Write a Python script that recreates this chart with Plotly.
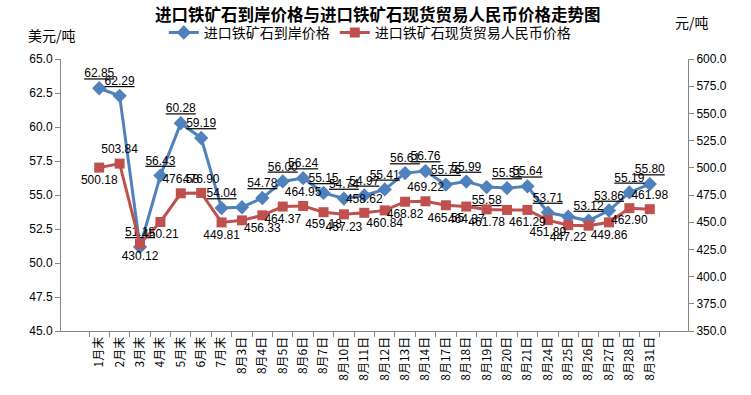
import plotly.graph_objects as go

categories = ["1月末", "2月末", "3月末", "4月末", "5月末", "6月末", "7月末", "8月3日", "8月4日",
              "8月5日", "8月6日", "8月7日", "8月10日", "8月11日", "8月12日", "8月13日", "8月14日",
              "8月17日", "8月18日", "8月19日", "8月20日", "8月21日", "8月24日", "8月25日",
              "8月26日", "8月27日", "8月28日", "8月31日"]

cif_usd = [62.85, 62.29, 51.18, 56.43, 60.28, 59.19, 54.04, 54.10, 54.78, 56.00, 56.24, 55.15,
           54.74, 54.97, 55.41, 56.61, 56.76, 55.76, 55.99, 55.58, 55.51, 55.64, 53.71, 53.40,
           53.12, 53.86, 55.19, 55.80]
cif_labels = ["62.85", "62.29", "51.18", "56.43", "60.28", "59.19", "54.04", "", "54.78", "56.00",
              "56.24", "55.15", "54.74", "54.97", "55.41", "56.61", "56.76", "55.76", "55.99",
              "55.58", "55.51", "55.64", "53.71", "", "53.12", "53.86", "55.19", "55.80"]

spot_rmb = [500.18, 503.84, 430.12, 450.21, 476.58, 476.90, 449.81, 451.70, 456.33, 464.37,
            464.95, 459.18, 457.23, 458.62, 460.84, 468.82, 469.22, 465.55, 464.37, 461.78,
            461.30, 461.29, 451.89, 447.22, 446.80, 449.86, 462.90, 461.98]
spot_labels = ["500.18", "503.84", "430.12", "450.21", "476.58", "476.90", "449.81", "", "456.33",
               "464.37", "464.95", "459.18", "457.23", "458.62", "460.84", "468.82", "469.22",
               "465.55", "464.37", "461.78", "", "461.29", "451.89", "447.22", "", "449.86",
               "462.90", "461.98"]

left_ticks = [45.0, 47.5, 50.0, 52.5, 55.0, 57.5, 60.0, 62.5, 65.0]
right_ticks = [350.0, 375.0, 400.0, 425.0, 450.0, 475.0, 500.0, 525.0, 550.0, 575.0, 600.0]

BLUE = "#4F81BD"
RED = "#C0504D"
FONT = "Liberation Sans, Noto Sans CJK SC, sans-serif"
CJK = "Noto Sans CJK SC, sans-serif"

blue_pos = ["top center"] * len(categories)
blue_pos[19] = "bottom center"
red_pos = ["bottom center"] * len(categories)
for i in (1, 4, 5, 10, 13, 16, 27):
    red_pos[i] = "top center"

fig = go.Figure()
fig.add_trace(go.Scatter(
    x=categories, y=cif_usd, name="进口铁矿石到岸价格", mode="lines+markers+text",
    line=dict(color=BLUE, width=3), marker=dict(symbol="diamond", size=11, color=BLUE),
    text=cif_labels, textposition=blue_pos,
    textfont=dict(family=FONT, size=12, color="#000000", lineposition="under"),
    cliponaxis=False, yaxis="y"))
fig.add_trace(go.Scatter(
    x=categories, y=spot_rmb, name="进口铁矿石现货贸易人民币价格", mode="lines+markers+text",
    line=dict(color=RED, width=3), marker=dict(symbol="square", size=10, color=RED),
    text=spot_labels, textposition=red_pos,
    textfont=dict(family=FONT, size=12, color="#000000"),
    cliponaxis=False, yaxis="y2"))

fig.update_layout(
    width=751, height=395,
    margin=dict(l=61, r=63, t=59, b=64),
    paper_bgcolor="white", plot_bgcolor="white",
    font=dict(family=FONT, size=12, color="#000000"),
    title=dict(text="<b>进口铁矿石到岸价格与进口铁矿石现货贸易人民币价格走势图</b>",
               x=0.503, xanchor="center", y=0.962, yanchor="middle",
               font=dict(family=CJK, size=16.5, color="#000000")),
    showlegend=True,
    legend=dict(orientation="h", x=0.4925, xanchor="center", y=1.096, yanchor="middle",
                font=dict(family=CJK, size=14), bgcolor="rgba(0,0,0,0)"),
    xaxis=dict(type="category", showgrid=False, showline=True, linecolor="#868686",
               ticks="outside", tickson="boundaries", ticklen=5, tickcolor="#868686",
               tickangle=-90, tickfont=dict(family=CJK, size=12)),
    yaxis=dict(range=[45, 65], tickvals=left_ticks, tickformat=".1f", showgrid=False,
               showline=True, linecolor="#868686", ticks="outside", ticklen=5,
               tickcolor="#868686", zeroline=False, tickfont=dict(size=12)),
    yaxis2=dict(range=[350, 600], tickvals=right_ticks, tickformat=".1f", overlaying="y",
                side="right", showgrid=False, showline=True, linecolor="#868686",
                ticks="outside", ticklen=5, tickcolor="#868686", zeroline=False,
                tickfont=dict(size=12)),
    annotations=[
        dict(text="美元/吨", xref="paper", yref="paper", x=-0.0144, y=1.088,
             xanchor="center", yanchor="middle", showarrow=False,
             font=dict(family=CJK, size=14)),
        dict(text="元/吨", xref="paper", yref="paper", x=1.006, y=1.136,
             xanchor="center", yanchor="middle", showarrow=False,
             font=dict(family=CJK, size=14)),
    ],
)

fig.write_html("out.html", config={"displayModeBar": False},
               post_script="document.body.style.margin='0';")
